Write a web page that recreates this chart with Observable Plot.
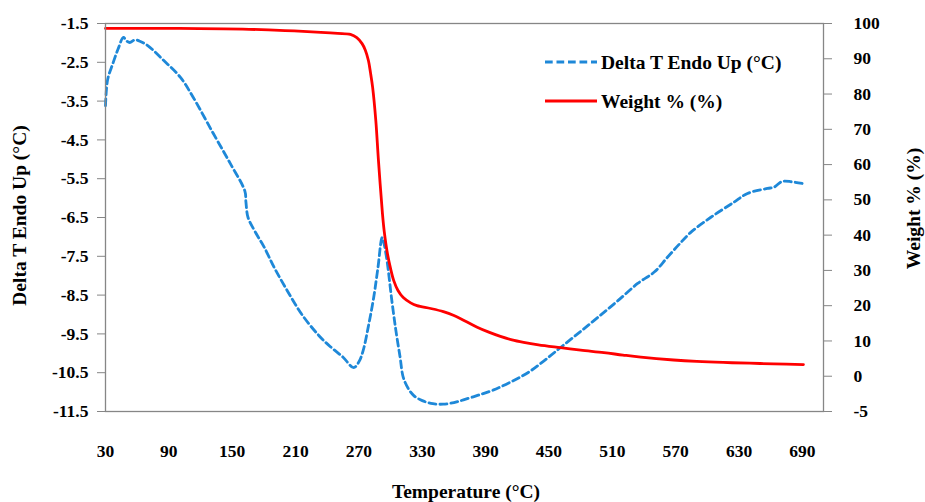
<!DOCTYPE html>
<html><head><meta charset="utf-8">
<script src="https://cdn.jsdelivr.net/npm/d3@7"></script>
<script src="https://cdn.jsdelivr.net/npm/@observablehq/plot@0.6"></script>
<style>
body{margin:0;background:#fff}
#chart svg{font-family:"Liberation Serif","Times New Roman",serif}
</style>
</head><body><div id="chart"></div>
<script>
// ---- data ----
const dtTemp = [30,32,37,42,47,50,53,58,62,70,85,101,113,132,148,162,163,165,172,180,190,202,216,232,243,255,265,270,274,279,284,288,292,294,297,301,305,309,312,317,322,330,340,350,360,369,383,397,413,430,445,461,478,496,515,534,550,562,573,584,603,625,638,657,663,671,680,691];
const deltaT = [-3.62,-2.95,-2.53,-2.15,-1.86,-1.95,-1.99,-1.92,-1.95,-2.07,-2.45,-2.89,-3.4,-4.33,-5.1,-5.82,-6.1,-6.5,-6.88,-7.25,-7.8,-8.38,-9.0,-9.54,-9.83,-10.1,-10.37,-10.22,-9.93,-9.3,-8.56,-7.8,-7.02,-7.2,-7.69,-8.6,-9.41,-10.1,-10.62,-10.92,-11.09,-11.22,-11.3,-11.31,-11.27,-11.2,-11.08,-10.95,-10.75,-10.5,-10.2,-9.85,-9.48,-9.08,-8.65,-8.2,-7.9,-7.53,-7.2,-6.89,-6.5,-6.11,-5.88,-5.75,-5.72,-5.57,-5.58,-5.63];
const wTemp = [30,100,160,200,234,250,262,268,273,276,279,281,283,286,288.5,292.3,294,297,300,303,307,312,319,325,338,350,360,371,382,393,404,415,426,440,461,480,502,520,537,568,590,615,640,663,691];
const weight = [98.6,98.6,98.4,98.0,97.5,97.2,96.9,96.0,94.3,92.5,89.5,86,81.9,72.5,61.2,46.1,41,34.8,30.5,27.1,24.3,22.3,20.8,20.0,19.2,18.3,17.2,15.6,13.9,12.5,11.3,10.3,9.6,8.9,8.1,7.4,6.7,6.0,5.4,4.6,4.2,3.9,3.7,3.5,3.3];

const xTicks = [30,90,150,210,270,330,390,450,510,570,630,690];
const leftTicks = [-1.5,-2.5,-3.5,-4.5,-5.5,-6.5,-7.5,-8.5,-9.5,-10.5,-11.5];
const rightTicks = [100,90,80,70,60,50,40,30,20,10,0,-10];
const rightTickLabels = ["100","90","80","70","60","50","40","30","20","10","0","-5"];
const seriesNames = ["Delta T Endo Up (°C)","Weight % (%)"];
const seriesColors = ["#1e88d8","#ff0000"];
const xTitle = "Temperature (°C)";
const yLeftTitle = "Delta T Endo Up (°C)";
const yRightTitle = "Weight % (%)";

// ---- build ----
const dtData = dtTemp.map((t,i)=>({t, v: deltaT[i]}));
const wData = wTemp.map((t,i)=>({t, w: weight[i]}));
const leftDomain = [-11.5,-1.5];
const wScale = d3.scaleLinear([-10,100], leftDomain);

const W=925, H=502, mL=105, mR=102, mT=23, mB=91;
const font = '"Liberation Serif","Times New Roman",serif';

const plot = Plot.plot({
  width: W, height: H,
  marginLeft: mL, marginRight: mR, marginTop: mT, marginBottom: mB,
  style: {fontFamily: font, fontSize: "17.5px", fontWeight: "bold", color: "#000", background: "#fff", overflow: "visible"},
  x: {domain: [30,710]},
  y: {domain: leftDomain},
  marks: [
    Plot.axisX(xTicks, {tickSize: 0, tickPadding: 33, label: null, tickFormat: d => String(d), fill: "#000"}),
    Plot.axisY(leftTicks, {anchor: "left", tickSize: 8, tickPadding: 9, label: null, tickFormat: d => d.toFixed(1), stroke: "#868686", fill: "#000"}),
    Plot.axisY(rightTicks.map(w => wScale(w)), {anchor: "right", tickSize: 8, tickPadding: 22, label: null, textAnchor: "start",
      tickFormat: v => { const w = wScale.invert(v); let bi = 0; rightTicks.forEach((r,i)=>{ if (Math.abs(r-w) < Math.abs(rightTicks[bi]-w)) bi = i; }); return rightTickLabels[bi]; },
      stroke: "#868686", fill: "#000"}),
    Plot.line(dtData, {x: "t", y: "v", stroke: seriesColors[0], strokeWidth: 2.8, strokeDasharray: "7,4", curve: "catmull-rom"}),
    Plot.line(wData, {x: "t", y: d => wScale(d.w), stroke: seriesColors[1], strokeWidth: 2.8, curve: "catmull-rom"}),
    Plot.frame({stroke: "#868686", strokeWidth: 1.3}),
    Plot.text([yLeftTitle], {frameAnchor: "left", dx: -80, dy: -2, rotate: -90, text: d => d, fill: "#000", fontSize: 19.5, fontWeight: "bold", lineAnchor: "bottom", textAnchor: "middle"}),
    Plot.text([yRightTitle], {frameAnchor: "right", dx: 96, dy: -9, rotate: -90, text: d => d, fill: "#000", fontSize: 19.5, fontWeight: "bold", lineAnchor: "bottom", textAnchor: "middle"})
  ]
});
document.getElementById("chart").appendChild(plot);

// x title and legend
const svg = d3.select(plot);
const tAttrs = sel => sel.attr("font-family", font).attr("font-weight", "bold").attr("font-size", "19.5px")
  .attr("fill", "#000").attr("stroke", "none").style("fill", "#000");
tAttrs(svg.append("text").attr("x", (mL + W - mR)/2 + 2).attr("y", 498).attr("text-anchor", "middle").text(xTitle));

const lg = svg.append("g");
seriesNames.forEach((name, i) => {
  const y = 62 + i*39;
  lg.append("line").attr("x1", 545).attr("x2", 597).attr("y1", y).attr("y2", y)
    .attr("stroke", seriesColors[i]).attr("stroke-width", 2.8).attr("stroke-dasharray", i === 0 ? "7.7,3.8" : null);
  tAttrs(lg.append("text").attr("x", 601).attr("y", y + 6.5).attr("text-anchor", "start").style("text-anchor", "start").text(name));
});
</script>
</body></html>
